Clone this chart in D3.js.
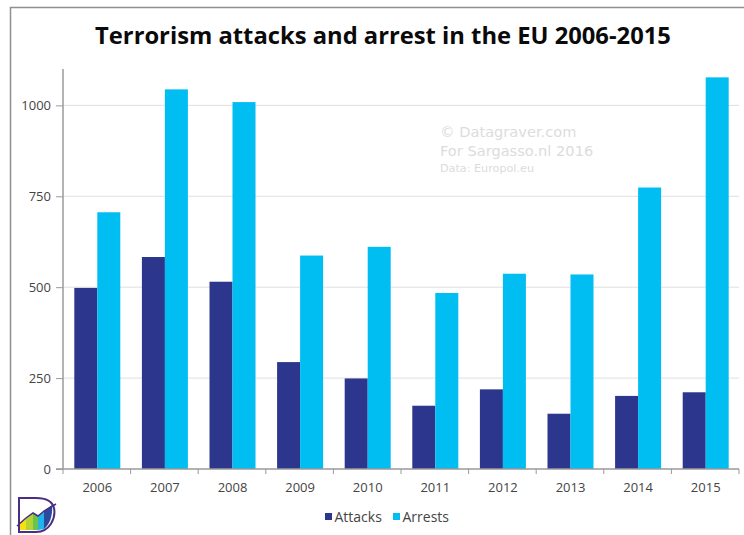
<!DOCTYPE html>
<html>
<head>
<meta charset="utf-8">
<script src="https://cdn.jsdelivr.net/npm/d3@7"></script>
<style>
html,body{margin:0;padding:0;background:#fff;overflow:hidden}
text{font-family:"Open Sans","Noto Sans",sans-serif}
</style>
</head>
<body>
<svg id="chart" width="744" height="535"></svg>
<script>
// Europol figures for the EU, 2006-2015
const years = ["2006","2007","2008","2009","2010","2011","2012","2013","2014","2015"];
const attacks = [498,583,515,294,249,174,219,152,201,211];
const arrests = [706,1044,1009,587,611,484,537,535,774,1077];
const seriesNames = ["Attacks","Arrests"];
const seriesColors = ["#2b368c","#00bdf2"];
const yTicks = [0,250,500,750,1000];
const creditLines = ["© Datagraver.com","For Sargasso.nl 2016","Data: Europol.eu"];

const svg = d3.select("#chart");
const plot = {left:63, right:739, top:69, bottom:469};

// Outer frame, open on the right and bottom sides
svg.append("path").attr("d","M10.5,535V7.5H744").attr("fill","none").attr("stroke","#8f8f8f").attr("stroke-width",1.5);

svg.append("text").attr("x",383).attr("y",44).attr("text-anchor","middle")
  .attr("font-size",23.75).attr("font-weight",700).attr("fill","#0a0a0a")
  .text("Terrorism attacks and arrest in the EU 2006-2015");

const x = d3.scaleBand().domain(years).range([plot.left,plot.right]);
const inner = d3.scaleBand().domain(seriesNames).range([0,46]);
const y = d3.scaleLinear().domain([0,1100]).range([plot.bottom,plot.top]);

// Horizontal gridlines and value labels
svg.append("g").selectAll("line").data(yTicks.filter(d=>d>0)).join("line")
  .attr("x1",plot.left).attr("x2",plot.right).attr("y1",d=>y(d)).attr("y2",d=>y(d))
  .attr("stroke","#dfdfdf");
const yAxis = d3.axisLeft(y).tickValues(yTicks).tickFormat(d3.format("d")).tickSize(7).tickPadding(5);
const gy = svg.append("g").attr("transform",`translate(${plot.left},0)`).call(yAxis);
gy.select(".domain").attr("stroke","#9a9a9a").attr("stroke-width",1.5).attr("d",`M0,${plot.top}V${plot.bottom}`);
gy.selectAll(".tick line").attr("stroke","#9a9a9a");
gy.selectAll(".tick text").attr("font-size",13).attr("fill","#444").style("font-family",'"Open Sans",sans-serif');

// Credit block behind the bars
const creditSizes = [14.6,14.6,11.2], creditY = [137,156,172];
svg.append("g").selectAll("text").data(creditLines).join("text")
  .attr("x",440).attr("y",(d,i)=>creditY[i]).attr("font-size",(d,i)=>creditSizes[i])
  .attr("fill","#dcdcdc").style("font-family",'"DejaVu Sans",sans-serif').text(d=>d);

// Grouped bars
const groups = svg.append("g").selectAll("g").data(years).join("g")
  .attr("transform",d=>`translate(${x(d)+(x.bandwidth()-46)/2+0.5},0)`);
[attacks,arrests].forEach((vals,s)=>{
  groups.append("rect")
    .attr("x",inner(seriesNames[s])).attr("width",inner.bandwidth())
    .attr("y",(d,i)=>y(vals[i])).attr("height",(d,i)=>y(0)-y(vals[i]))
    .attr("fill",seriesColors[s]);
});

// Category axis with ticks between the groups
const gx = svg.append("g").attr("transform",`translate(0,${plot.bottom})`);
gx.append("line").attr("x1",plot.left-7).attr("x2",plot.right).attr("stroke","#9a9a9a").attr("stroke-width",1.5);
gx.selectAll("line.t").data(d3.range(years.length+1)).join("line").attr("class","t")
  .attr("x1",i=>plot.left+i*x.step()).attr("x2",i=>plot.left+i*x.step()).attr("y1",0).attr("y2",5).attr("stroke","#9a9a9a");
gx.selectAll("text").data(years).join("text")
  .attr("x",d=>x(d)+x.bandwidth()/2+0.5).attr("y",23).attr("text-anchor","middle")
  .attr("font-size",13).attr("fill","#444").text(d=>d);

// Legend
const legendX = [325,393];
const legend = svg.append("g").selectAll("g").data(seriesNames).join("g")
  .attr("transform",(d,i)=>`translate(${legendX[i]},518)`);
legend.append("rect").attr("y",-5).attr("width",7).attr("height",7).attr("fill",(d,i)=>seriesColors[i]);
legend.append("text").attr("x",9.5).attr("y",4).attr("font-size",14).attr("fill","#444").text(d=>d);

// Small publisher mark in the lower-left corner
const logo = svg.append("g");
[["#f4e20f","M20,530V522L26,518V530Z"],["#b5d334","M26,530V518L33,513V530Z"],
 ["#6cc24a","M33,530V513L38,516V530Z"],["#1fb5e8","M38,530V516L44,511V529Z"],
 ["#2b4a9c","M44,529V511L52,505C53,515 50,524 44,529Z"]]
 .forEach(([c,p])=>logo.append("path").attr("d",p).attr("fill",c));
logo.append("path").attr("d","M19,498V532H36C50,532 56,518 54,508C52,500 44,498 36,498Z")
  .attr("fill","none").attr("stroke","#4b2d83").attr("stroke-width",2);
logo.append("path").attr("d","M17,526L26,518L33,513L38,516L44,511L56,504")
  .attr("fill","none").attr("stroke","#4b2d83").attr("stroke-width",1.5);
</script>
</body>
</html>
